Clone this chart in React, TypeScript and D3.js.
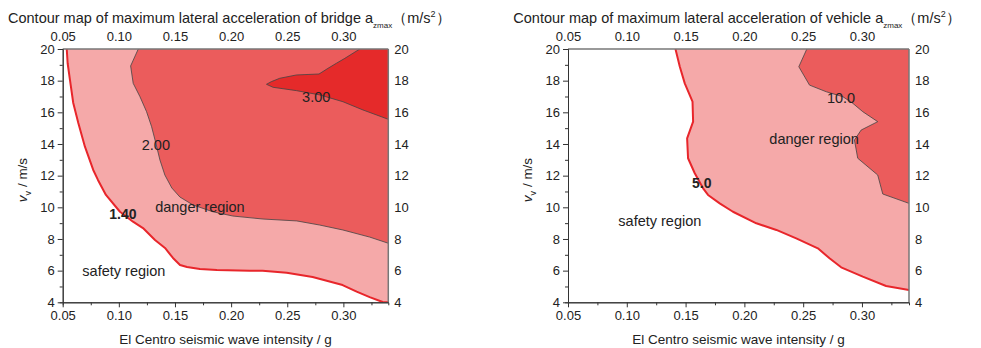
import React, { useEffect, useRef } from 'react'
import { axisBottom, axisLeft, axisRight, axisTop, line, scaleLinear, select } from 'd3'

// x: seismic wave intensity (g), y: speed (m/s)
const xDomain = [0.05, 0.34]
const yDomain = [4, 20]
const xMajorTicks = [0.05, 0.1, 0.15, 0.2, 0.25, 0.3]
const xMinorTicks = [0.075, 0.125, 0.175, 0.225, 0.275, 0.325]
const yMajorTicks = [4, 6, 8, 10, 12, 14, 16, 18, 20]
const yMinorTicks = [5, 7, 9, 11, 13, 15, 17, 19]

// bridge contours
const bridge140 = [
  [0.0536, 20], [0.0544, 19.1], [0.0565, 18.04], [0.0594, 16.59], [0.0639, 15.33],
  [0.0698, 13.83], [0.0772, 12.36], [0.0814, 11.73], [0.0885, 10.78], [0.101, 9.72],
  [0.1126, 9.09], [0.1215, 8.69], [0.1322, 7.94], [0.1411, 7.43], [0.1482, 6.8],
  [0.1545, 6.36], [0.1607, 6.23], [0.1722, 6.1], [0.1873, 6.04], [0.2167, 6.0],
  [0.228, 6.0], [0.2495, 5.87], [0.2726, 5.6], [0.2993, 5.09], [0.3118, 4.67],
  [0.3234, 4.33], [0.335, 4.02], [0.34, 4],
]
const bridge200 = [
  [0.1173, 20], [0.1105, 18.93], [0.1128, 17.83], [0.1188, 16.99], [0.1247, 16.04],
  [0.1292, 15.09], [0.133, 14.04], [0.1366, 12.99], [0.141, 12.04], [0.1472, 11.22],
  [0.1544, 10.65], [0.166, 10.15], [0.1837, 9.72], [0.2015, 9.45], [0.2283, 9.26],
  [0.2585, 9.14], [0.2789, 8.88], [0.2994, 8.57], [0.3234, 8.12], [0.34, 7.73],
]
const bridge300 = [
  [0.3146, 20], [0.3013, 19.41], [0.2938, 19.1], [0.2863, 18.78], [0.2783, 18.42],
  [0.2582, 18.36], [0.2433, 18.15], [0.2359, 17.94], [0.2315, 17.77], [0.2374, 17.58],
  [0.2582, 17.37], [0.2789, 17.1], [0.2996, 16.67], [0.3174, 16.15], [0.34, 15.56],
]

// vehicle contours
const vehicle50 = [
  [0.1414, 20], [0.1451, 18.88], [0.1493, 17.83], [0.1559, 16.67], [0.1564, 15.41],
  [0.1513, 14.36], [0.1521, 13.1], [0.1578, 12.15], [0.1649, 11.2], [0.1691, 10.78],
  [0.179, 10.25], [0.1903, 9.72], [0.2102, 8.99], [0.2272, 8.57], [0.2441, 8.04],
  [0.2625, 7.41], [0.2724, 6.78], [0.2823, 6.21], [0.3007, 5.62], [0.3205, 5.03],
  [0.34, 4.78],
]
const vehicle100 = [
  [0.2531, 20], [0.2463, 18.88], [0.2554, 17.72], [0.2696, 17.3], [0.2837, 16.99],
  [0.2922, 16.57], [0.3007, 16.04], [0.3134, 15.41], [0.2993, 14.88], [0.2936, 14.25],
  [0.2964, 13.1], [0.3134, 12.04], [0.3177, 10.84], [0.34, 10.25],
]

const lightFill = '#f5a9a9'
const midFill = '#eb5c5c'
const darkFill = '#e52a2a'
const redLine = '#e8262b'
const font = '"Liberation Sans", Arial, sans-serif'

function ContourPanel({ x0, x1, titleMain, contours, labels, id }) {
  const ref = useRef(null)
  const top = 49
  const bottom = 302.3

  useEffect(() => {
    const svg = select(ref.current)
    svg.selectAll('*').remove()

    const X = scaleLinear().domain(xDomain).range([x0, x1])
    const Y = scaleLinear().domain(yDomain).range([bottom, top])

    svg.append('clipPath').attr('id', id)
      .append('rect')
      .attr('x', x0).attr('y', top)
      .attr('width', x1 - x0).attr('height', bottom - top)

    const plot = svg.append('g').attr('clip-path', `url(#${id})`)
    const path = line().x(d => X(d[0])).y(d => Y(d[1]))

    contours.forEach(c => {
      plot.append('path')
        .attr('d', path([...c.points, [xDomain[1], yDomain[1]]]) + 'Z')
        .attr('fill', c.fill)
    })
    contours.forEach(c => {
      plot.append('path')
        .attr('d', path(c.points))
        .attr('fill', 'none')
        .attr('stroke', c.stroke)
        .attr('stroke-width', c.strokeWidth)
        .attr('stroke-linejoin', 'round')
    })

    // frame
    svg.append('line').attr('x1', x0).attr('x2', x1).attr('y1', top).attr('y2', top)
      .attr('stroke', '#777').attr('stroke-width', 1.5)
    svg.append('line').attr('x1', x1).attr('x2', x1).attr('y1', top).attr('y2', bottom)
      .attr('stroke', '#777').attr('stroke-width', 1.5)

    const styleAxis = g => {
      g.selectAll('text').attr('font-family', font).attr('font-size', 13).attr('fill', '#222')
      g.selectAll('line').attr('stroke', '#333')
      g.select('.domain').attr('stroke', '#333')
    }

    svg.append('g').attr('transform', `translate(0,${bottom})`)
      .call(axisBottom(X).tickValues(xMinorTicks).tickSize(3).tickFormat(() => ''))
      .call(styleAxis)
    svg.append('g').attr('transform', `translate(0,${bottom})`)
      .call(axisBottom(X).tickValues(xMajorTicks).tickSize(5).tickSizeOuter(0).tickFormat(d => d.toFixed(2)))
      .call(styleAxis)
    svg.append('g').attr('transform', `translate(${x0},0)`)
      .call(axisLeft(Y).tickValues(yMinorTicks).tickSize(3).tickFormat(() => ''))
      .call(styleAxis)
    svg.append('g').attr('transform', `translate(${x0},0)`)
      .call(axisLeft(Y).tickValues(yMajorTicks).tickSize(5).tickSizeOuter(0).tickFormat(d => `${d}`))
      .call(styleAxis)
    svg.append('g').attr('transform', `translate(0,${top})`)
      .call(axisTop(X).tickValues(xMajorTicks).tickSize(0).tickPadding(8).tickFormat(d => d.toFixed(2)))
      .call(styleAxis)
      .call(g => g.select('.domain').remove())
    svg.append('g').attr('transform', `translate(${x1},0)`)
      .call(axisRight(Y).tickValues(yMajorTicks).tickSize(0).tickPadding(6).tickFormat(d => `${d}`))
      .call(styleAxis)
      .call(g => g.select('.domain').remove())

    labels.forEach(l => {
      svg.append('text')
        .attr('x', X(l.x)).attr('y', Y(l.y))
        .attr('text-anchor', 'middle').attr('dominant-baseline', 'central')
        .attr('font-family', font).attr('font-size', l.size)
        .attr('font-weight', l.bold ? 'bold' : 'normal')
        .attr('fill', '#222')
        .text(l.text)
    })

    // axis titles
    svg.append('text')
      .attr('x', (x0 + x1) / 2).attr('y', 344)
      .attr('text-anchor', 'middle')
      .attr('font-family', font).attr('font-size', 13.5).attr('fill', '#222')
      .text('El Centro seismic wave intensity / g')

    const yl = svg.append('text')
      .attr('transform', `translate(${x0 - 36},180) rotate(-90)`)
      .attr('text-anchor', 'middle')
      .attr('font-family', font).attr('font-size', 13.5).attr('fill', '#222')
    yl.append('tspan').attr('font-style', 'italic').text('v')
    yl.append('tspan').attr('font-size', 9).attr('dy', 4).text('v')
    yl.append('tspan').attr('dy', -4).text(' / m/s')

    const t = svg.append('text')
      .attr('x', x0 - 54.7).attr('y', 22.5)
      .attr('font-family', font).attr('font-size', 14.5).attr('fill', '#222')
    t.append('tspan').text(titleMain)
    t.append('tspan').attr('font-size', 8).attr('dy', 5).text('zmax')
    t.append('tspan').attr('dy', -5).text('（m/s')
    t.append('tspan').attr('font-size', 9).attr('dy', -6).text('2')
    t.append('tspan').attr('dy', 6).text('）')
  }, [])

  return <g ref={ref}></g>
}

export default function App() {
  const bridgeContours = [
    { points: bridge140, fill: lightFill, stroke: redLine, strokeWidth: 2 },
    { points: bridge200, fill: midFill, stroke: '#444', strokeWidth: 0.8 },
    { points: bridge300, fill: darkFill, stroke: '#444', strokeWidth: 0.8 },
  ]
  const vehicleContours = [
    { points: vehicle50, fill: lightFill, stroke: redLine, strokeWidth: 2 },
    { points: vehicle100, fill: midFill, stroke: '#444', strokeWidth: 0.8 },
  ]
  const bridgeLabels = [
    { text: '1.40', x: 0.1036, y: 9.6, size: 14, bold: true },
    { text: '2.00', x: 0.133, y: 13.94, size: 14.5 },
    { text: '3.00', x: 0.2758, y: 16.97, size: 14.5 },
    { text: 'danger region', x: 0.1722, y: 10.02, size: 14.5 },
    { text: 'safety region', x: 0.1045, y: 5.98, size: 14.5 },
  ]
  const vehicleLabels = [
    { text: '5.0', x: 0.1638, y: 11.54, size: 14, bold: true },
    { text: '10.0', x: 0.2822, y: 16.9, size: 14.5 },
    { text: 'danger region', x: 0.2593, y: 14.3, size: 14.5 },
    { text: 'safety region', x: 0.1281, y: 9.14, size: 14.5 },
  ]

  return (
    <svg width={981} height={348} style={{ position: 'absolute', left: 0, top: 0, background: '#fff' }}>
      <ContourPanel id="clip-bridge" x0={62.7} x1={388.3}
        titleMain="Contour map of maximum lateral acceleration of bridge a"
        contours={bridgeContours} labels={bridgeLabels} />
      <ContourPanel id="clip-vehicle" x0={568} x1={909}
        titleMain="Contour map of maximum lateral acceleration of vehicle a"
        contours={vehicleContours} labels={vehicleLabels} />
    </svg>
  )
}
